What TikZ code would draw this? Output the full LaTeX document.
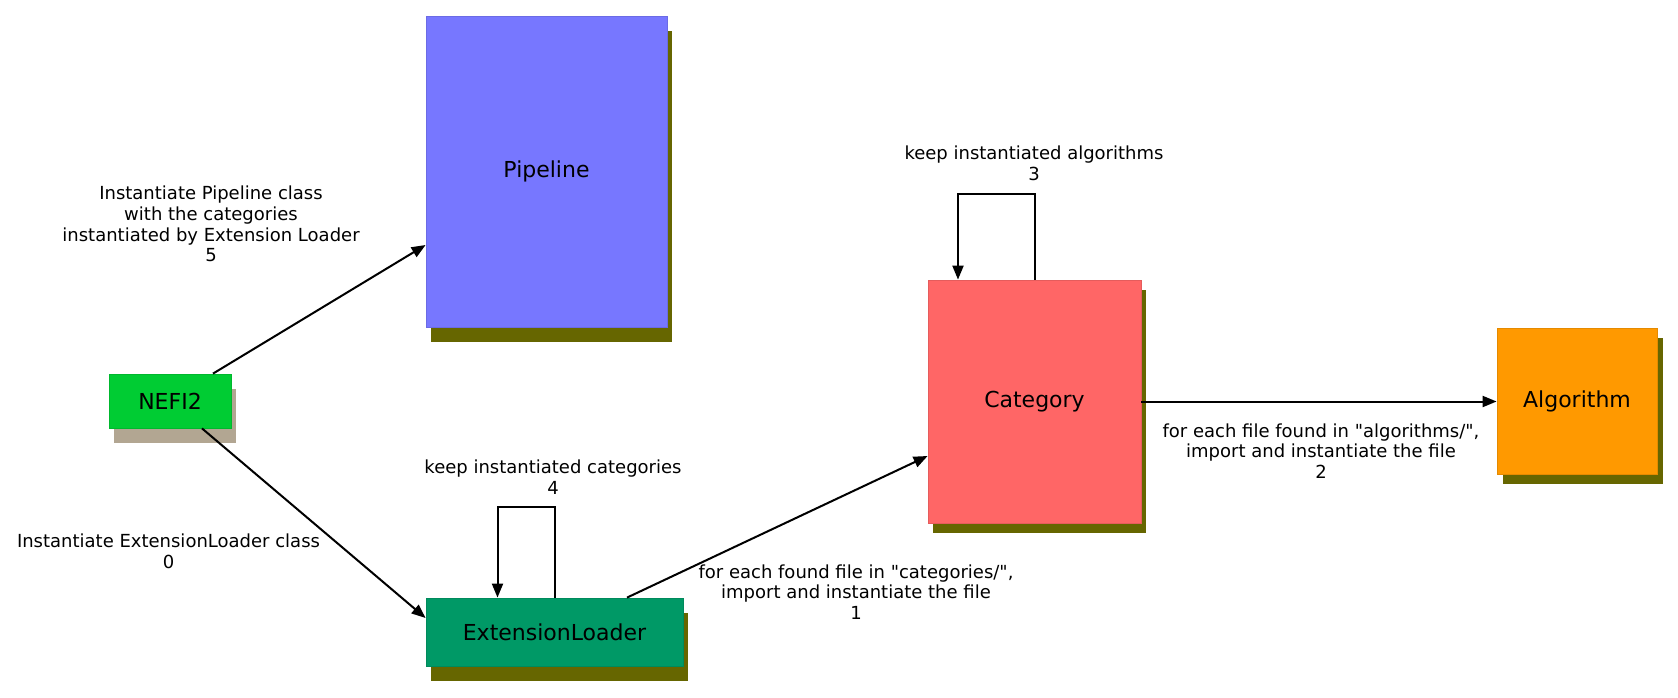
\documentclass[tikz,border=0pt]{standalone}
\usepackage{fontspec}
\setmainfont{DejaVu Sans}[Ligatures=TeXOff]
\usetikzlibrary{arrows.meta,shadows}
\definecolor{pipeblue}{RGB}{119,119,255}
\definecolor{nefigreen}{RGB}{0,204,51}
\definecolor{loadergreen}{RGB}{0,153,102}
\definecolor{catred}{RGB}{255,102,102}
\definecolor{algoorange}{RGB}{255,153,0}
\definecolor{shadowolive}{RGB}{102,102,0}
\definecolor{nefishadow}{RGB}{178,166,146}
\tikzset{
  block/.style={rectangle, fill=#1, draw=#1!90!black, line width=0.4pt, inner sep=0pt, font=\fontsize{11}{13}\selectfont},
  oliveshadow/.style={drop shadow={shadow xshift=2.5pt, shadow yshift=-#1, fill=shadowolive, opacity=1}},
  edgetext/.style={align=center, font=\fontsize{9}{10.4}\selectfont},
  flow/.style={-{Triangle[length=7pt,width=5.5pt]}, line width=1pt},
}

\begin{document}
\begin{tikzpicture}[x=0.5pt, y=-0.5pt]
            \fill [white] (0,0) rectangle (1678,697);
               \node [block=pipeblue, oliveshadow=7.5pt, minimum width=120.5pt, minimum height=155.5pt] (pipeline) at (546.5,171.5) {Pipeline};
               \node [block=nefigreen, drop shadow={shadow xshift=2.5pt, shadow yshift=-7.5pt, fill=nefishadow, opacity=1}, minimum width=61pt, minimum height=27pt] (nefi) at (170,401) {NEFI2};
               \node [block=loadergreen, oliveshadow=7.5pt, minimum width=128.5pt, minimum height=34pt] (loader) at (554.5,632) {ExtensionLoader};
               \node [block=catred, oliveshadow=5pt, minimum width=106.5pt, minimum height=121.5pt] (category) at (1034.5,401.5) {Category};
               \node [block=algoorange, drop shadow={shadow xshift=3pt, shadow yshift=-5pt, fill=shadowolive, opacity=1}, minimum width=80pt, minimum height=73pt] (algorithm) at (1577,401) {Algorithm};
               \draw [flow] ([xshift=21.5pt]nefi.north) -- ([yshift=-36.75pt]pipeline.west);
               \draw [flow] ([xshift=16pt]nefi.south) -- ([yshift=7pt]loader.west);
               \draw [flow] ([xshift=36.25pt]loader.north) -- ([yshift=-27.25pt]category.west);
               \draw [flow] (category.east) -- (category.east -| algorithm.west);
               \draw [flow] (loader.north) -- ++(0,45.5pt) -| ([xshift=-28.5pt]loader.north);
               \draw [flow] (category.north) -- ++(0,43pt) -| ([xshift=-38.25pt]category.north);
               \node [edgetext] (lblpipeline) at (211,224) {Instantiate Pipeline class\\with the categories\\instantiated by Extension Loader\\5};
               \node [edgetext] (lblloader) at (168.5,551.5) {Instantiate ExtensionLoader class\\0};
               \node [edgetext] (lblkeepcat) at (553,477.5) {keep instantiated categories\\4};
               \node [edgetext] (lblcategories) at (856,592) {for each found file in "categories/",\\import and instantiate the file\\1};
               \node [edgetext] (lblkeepalgo) at (1034,163.5) {keep instantiated algorithms\\3};
               \node [edgetext] (lblalgorithms) at (1321,451) {for each file found in "algorithms/",\\import and instantiate the file\\2};
           \end{tikzpicture}
\end{document}
